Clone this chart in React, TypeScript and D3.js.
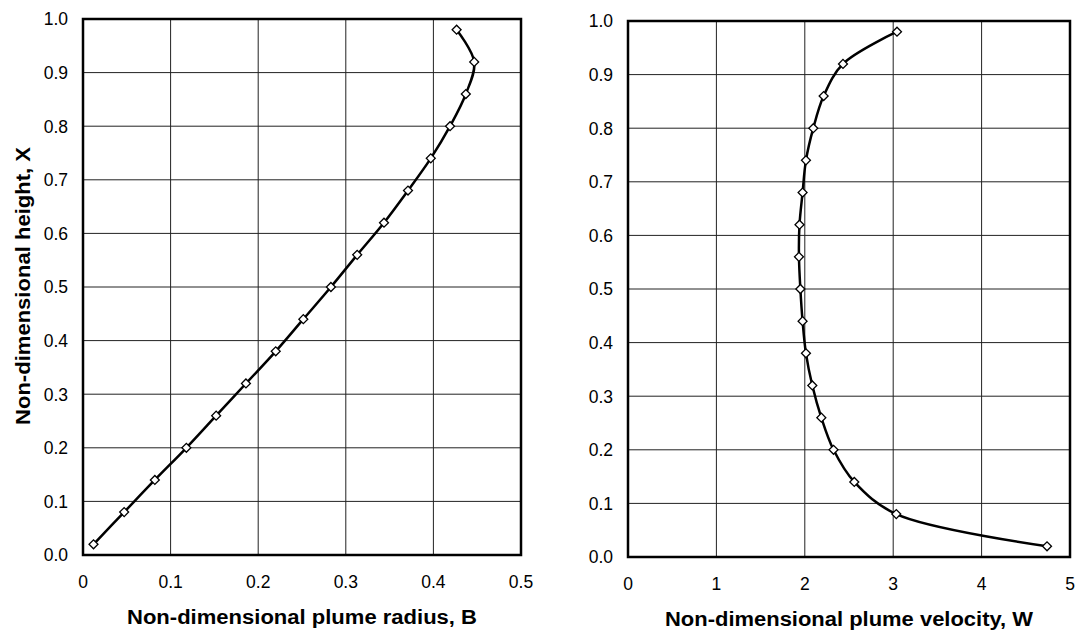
import React, { useEffect, useRef } from "react";
import * as d3 from "d3";

// non-dimensional height, shared by both panels
const heights = [0.02, 0.08, 0.14, 0.2, 0.26, 0.32, 0.38, 0.44, 0.5, 0.56, 0.62, 0.68, 0.74, 0.8, 0.86, 0.92, 0.98];
// plume radius B
const radius = [0.012, 0.047, 0.082, 0.118, 0.152, 0.186, 0.22, 0.2515, 0.283, 0.313, 0.3436, 0.371, 0.397, 0.419, 0.437, 0.4466, 0.4265];
// plume velocity W
const velocity = [4.74, 3.035, 2.56, 2.325, 2.187, 2.085, 2.013, 1.975, 1.95, 1.934, 1.94, 1.975, 2.013, 2.096, 2.213, 2.432, 3.043];

const yTicks = [0, 0.1, 0.2, 0.3, 0.4, 0.5, 0.6, 0.7, 0.8, 0.9, 1.0];
const radiusTicks = [0, 0.1, 0.2, 0.3, 0.4, 0.5];
const velocityTicks = [0, 1, 2, 3, 4, 5];

const FONT = "'Liberation Sans', Arial, sans-serif";

const App = () => {
  const svgRef = useRef<SVGSVGElement>(null);

  useEffect(() => {
    const svg = d3.select(svgRef.current);
    svg.selectAll("*").remove();

    const drawPanel = (
      box: { left: number; right: number; top: number; bottom: number },
      xVals: number[],
      xTicks: number[],
      xMax: number,
      xFmt: (d: number) => string,
      title: string,
      titleLen: number
    ) => {
      const x = d3.scaleLinear().domain([0, xMax]).range([box.left, box.right]);
      const y = d3.scaleLinear().domain([0, 1]).range([box.bottom, box.top]);
      const g = svg.append("g");

      // grid
      g.selectAll(".vg")
        .data(xTicks.slice(1, -1))
        .join("line")
        .attr("x1", (d) => x(d))
        .attr("x2", (d) => x(d))
        .attr("y1", box.top)
        .attr("y2", box.bottom)
        .attr("stroke", "#222")
        .attr("stroke-width", 1);
      g.selectAll(".hg")
        .data(yTicks.slice(1, -1))
        .join("line")
        .attr("x1", box.left)
        .attr("x2", box.right)
        .attr("y1", (d) => y(d))
        .attr("y2", (d) => y(d))
        .attr("stroke", "#222")
        .attr("stroke-width", 1);

      // frame
      g.append("rect")
        .attr("x", box.left)
        .attr("y", box.top)
        .attr("width", box.right - box.left)
        .attr("height", box.bottom - box.top)
        .attr("fill", "none")
        .attr("stroke", "#000")
        .attr("stroke-width", 2.5);

      // tick labels
      g.selectAll(".yl")
        .data(yTicks)
        .join("text")
        .attr("x", box.left - 15)
        .attr("y", (d) => y(d))
        .attr("dy", "0.36em")
        .attr("text-anchor", "end")
        .attr("font-family", FONT)
        .attr("font-size", 17.5)
        .text((d) => d3.format(".1f")(d));
      g.selectAll(".xl")
        .data(xTicks)
        .join("text")
        .attr("x", (d) => x(d))
        .attr("y", box.bottom + 27)
        .attr("dy", "0.36em")
        .attr("text-anchor", "middle")
        .attr("font-family", FONT)
        .attr("font-size", 17.5)
        .text(xFmt);

      // axis title
      g.append("text")
        .attr("x", (box.left + box.right) / 2)
        .attr("y", box.bottom + 62)
        .attr("dy", "0.36em")
        .attr("text-anchor", "middle")
        .attr("font-family", FONT)
        .attr("font-size", 19.5)
        .attr("font-weight", "bold")
        .attr("textLength", titleLen)
        .attr("lengthAdjust", "spacingAndGlyphs")
        .text(title);

      const pts = heights.map((h, i) => [xVals[i], h] as [number, number]);

      g.append("path")
        .datum(pts)
        .attr("fill", "none")
        .attr("stroke", "#000")
        .attr("stroke-width", 2.5)
        .attr(
          "d",
          d3
            .line<[number, number]>()
            .x((d) => x(d[0]))
            .y((d) => y(d[1]))
            .curve(d3.curveCatmullRom.alpha(0.5))
        );

      // diamond markers
      g.selectAll(".mk")
        .data(pts)
        .join("path")
        .attr("d", d3.symbol(d3.symbolSquare, 40)())
        .attr("transform", (d) => `translate(${x(d[0])},${y(d[1])}) rotate(45)`)
        .attr("fill", "#fff")
        .attr("stroke", "#000")
        .attr("stroke-width", 1.3);
    };

    drawPanel(
      { left: 83, right: 521, top: 19, bottom: 555 },
      radius,
      radiusTicks,
      0.5,
      (d) => (d === 0 ? "0" : d3.format(".1f")(d)),
      "Non-dimensional plume radius, B",
      350
    );
    drawPanel(
      { left: 628, right: 1070, top: 21, bottom: 557 },
      velocity,
      velocityTicks,
      5,
      (d) => d3.format("d")(d),
      "Non-dimensional plume velocity, W",
      368
    );

    // y axis title (left panel only)
    svg
      .append("text")
      .attr("transform", "translate(23,286) rotate(-90)")
      .attr("dy", "0.36em")
      .attr("text-anchor", "middle")
      .attr("font-family", FONT)
      .attr("font-size", 20)
      .attr("font-weight", "bold")
      .attr("textLength", 278)
      .attr("lengthAdjust", "spacingAndGlyphs")
      .text("Non-dimensional height, X");
  }, []);

  return (
    <svg
      ref={svgRef}
      width={1079}
      height={632}
      style={{ position: "absolute", left: 0, top: 0, background: "#fff" }}
    ></svg>
  );
};

export default App;
